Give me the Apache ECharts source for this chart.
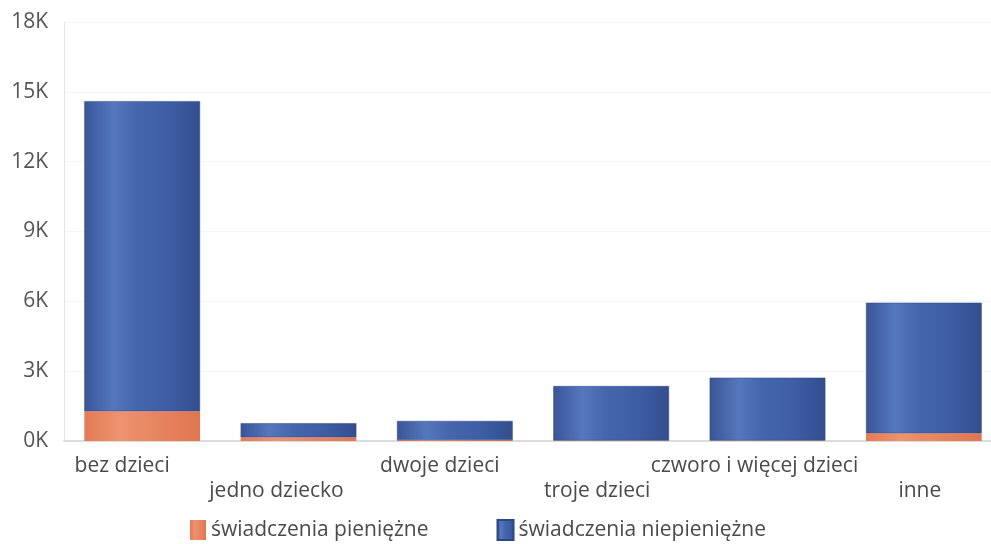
<!DOCTYPE html>
<html><head><meta charset="utf-8">
<script src="https://cdn.jsdelivr.net/npm/echarts@6/dist/echarts.min.js"></script>
<style>html,body{margin:0;padding:0;background:#fff;overflow:hidden}#c{width:1010px;height:544px}</style>
</head><body><div id="c"></div>
<script>
const categories = ['bez dzieci','jedno dziecko','dwoje dzieci','troje dzieci','czworo i więcej dzieci','inne'];
const pieniezne = [1280, 160, 40, 20, 20, 330];
const niepieniezne = [13320, 600, 820, 2340, 2700, 5610];
const yTicks = ['0K','3K','6K','9K','12K','15K','18K'];
const seriesNames = ['świadczenia pieniężne','świadczenia niepieniężne'];

const font = '"Open Sans", "Noto Sans", sans-serif';
const labelShift = [20, 22, 15, 14, 13, 4];
const rich = {};
labelShift.forEach((s,i)=>{ rich['r'+i] = {padding:[0, 2*s, 0, 0], fontFamily:font, fontSize:21, color:'#4a4a4a', lineHeight:25}; });

const chart = echarts.init(document.getElementById('c'));
const blueGrad = new echarts.graphic.LinearGradient(0,0,1,0,[
  {offset:0,color:'#3a5597'},{offset:0.25,color:'#5577bd'},{offset:0.45,color:'#4566ad'},
  {offset:0.75,color:'#3d5ca3'},{offset:1,color:'#324e8e'}]);
const orangeGrad = new echarts.graphic.LinearGradient(0,0,1,0,[
  {offset:0,color:'#e27a55'},{offset:0.3,color:'#ee9270'},{offset:1,color:'#df7650'}]);
chart.setOption({
  animation:false,
  backgroundColor:'#ffffff',
  grid:{left:64, top:22, width:938, height:419},
  legend:{
    top:514, left:185, itemGap:68, itemWidth:16, itemHeight:20,
    icon:'rect',
    textStyle:{fontFamily:font, fontSize:21, color:'#4a4a4a'},
    data:seriesNames
  },
  xAxis:{
    type:'category', data:categories,
    axisLine:{lineStyle:{color:'#dcdcdc', width:2}},
    axisTick:{show:false},
    axisLabel:{
      interval:0, hideOverlap:false, margin:13,
      fontFamily:font, fontSize:21, color:'#4a4a4a', lineHeight:25, rich:rich,
      formatter:(v,i)=> (i%2 ? '\n' : '') + '{r'+i+'|'+v+'}'
    }
  },
  yAxis:{
    type:'value', min:0, max:18000, interval:3000,
    axisLine:{show:true, lineStyle:{color:'#e4e4e4', width:1}},
    splitLine:{lineStyle:{color:'#f6f6f6'}},
    axisLabel:{fontFamily:font, fontSize:21, color:'#555', margin:16,
      formatter:v=>yTicks[Math.round(v/3000)]}
  },
  series:[
    {name:seriesNames[0], type:'bar', stack:'a', data:pieniezne, barWidth:'74%',
     itemStyle:{color:orangeGrad}},
    {name:seriesNames[1], type:'bar', stack:'a', data:niepieniezne, barWidth:'74%',
     itemStyle:{color:blueGrad, borderColor:'#2f4680', borderWidth:0.5}}
  ]
});
</script></body></html>
